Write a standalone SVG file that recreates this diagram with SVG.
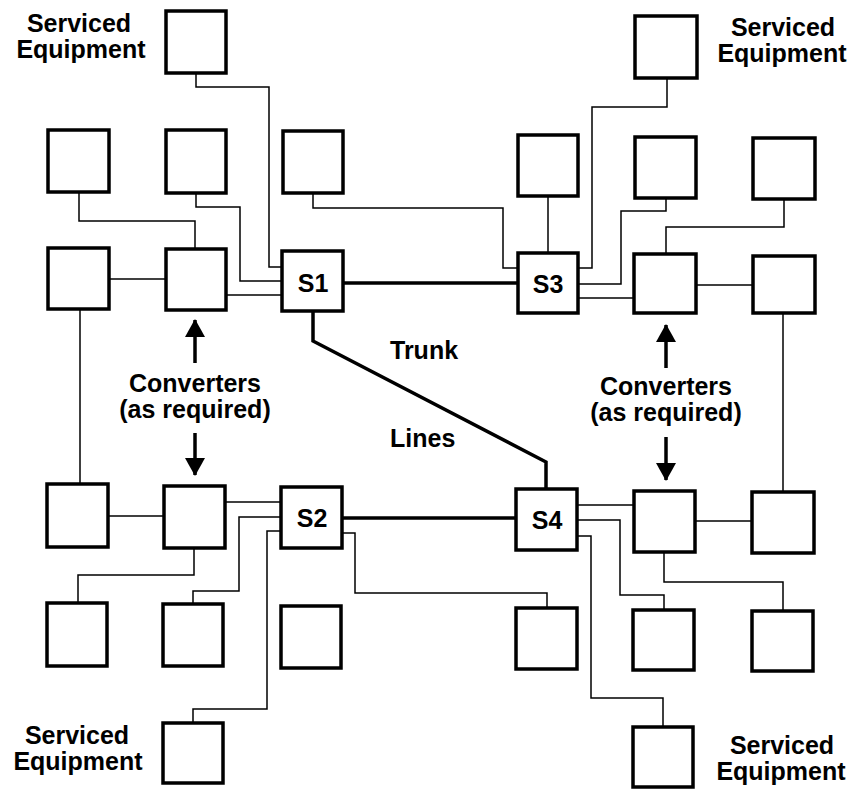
<svg xmlns="http://www.w3.org/2000/svg" width="857" height="794" viewBox="0 0 857 794">
<style>
.box{fill:#fff;stroke:#000;stroke-width:3.5}
.ln{fill:none;stroke:#000;stroke-width:1.5}
.tr{fill:none;stroke:#000;stroke-width:3.5}
.ar{fill:none;stroke:#000;stroke-width:3.5}
text{font-family:"Liberation Sans",Arial,sans-serif;font-weight:bold;font-size:25px;fill:#000}
.c{text-anchor:middle}
</style>
<defs>
<marker id="ah" markerWidth="20" markerHeight="20" refX="17" refY="10" orient="auto" markerUnits="userSpaceOnUse">
<path d="M0,0 L18,10 L0,20 Z" fill="#000"/>
</marker>
</defs>
<rect width="857" height="794" fill="#fff"/>
<g id="connectors">
<polyline class="ln" points="196,73 196,87 269,87 269,267 282,267"/>
<polyline class="ln" points="79,192 79,221 195,221 195,249"/>
<polyline class="ln" points="196,193 196,207 240,207 240,281 282,281"/>
<line class="ln" x1="109" y1="279" x2="166" y2="279"/>
<line class="ln" x1="226" y1="295" x2="282" y2="295"/>
<polyline class="ln" points="313,193 313,208 503,208 503,268 518,268"/>
<line class="ln" x1="548" y1="196" x2="548" y2="253"/>
<polyline class="ln" points="578,268 592,268 592,107 667,107 667,78"/>
<polyline class="ln" points="578,284 621,284 621,211 666,211 666,198"/>
<line class="ln" x1="578" y1="298" x2="634" y2="298"/>
<polyline class="ln" points="784,199 784,227 666,227 666,254"/>
<line class="ln" x1="696" y1="285" x2="753" y2="285"/>
<line class="ln" x1="783" y1="313" x2="783" y2="492"/>
<line class="ln" x1="80" y1="309" x2="80" y2="484"/>
<line class="ln" x1="108" y1="516" x2="164" y2="516"/>
<line class="ln" x1="225" y1="502" x2="281" y2="502"/>
<polyline class="ln" points="281,517 239,517 239,591 193,591 193,604"/>
<polyline class="ln" points="281,531 267,531 267,709 193,709 193,723"/>
<polyline class="ln" points="194,548 194,575 78,575 78,603"/>
<polyline class="ln" points="342,533 355,533 355,593 547,593 547,608"/>
<line class="ln" x1="577" y1="505" x2="634" y2="505"/>
<polyline class="ln" points="577,520 620,520 620,595 664,595 664,610"/>
<polyline class="ln" points="577,536 591,536 591,698 663,698 663,727"/>
<line class="ln" x1="695" y1="521" x2="752" y2="521"/>
<polyline class="ln" points="664,552 664,582 783,582 783,611"/>
<line class="tr" x1="343" y1="283" x2="518" y2="283"/>
<polyline class="tr" points="313,311 313,341 546,462 546,489"/>
<line class="tr" x1="342" y1="518" x2="516" y2="518"/>
<line class="ar" x1="195" y1="363" x2="195" y2="320" marker-end="url(#ah)"/>
<line class="ar" x1="195" y1="433" x2="195" y2="475" marker-end="url(#ah)"/>
<line class="ar" x1="666" y1="368" x2="666" y2="325" marker-end="url(#ah)"/>
<line class="ar" x1="666" y1="437" x2="666" y2="480" marker-end="url(#ah)"/>
</g>
<g id="se-tl"><rect class="box" x="166" y="11" width="60" height="62"/></g>
<g id="se-tr"><rect class="box" x="635" y="16" width="62" height="62"/></g>
<g id="a"><rect class="box" x="48" y="130" width="61" height="62"/></g>
<g id="b"><rect class="box" x="166" y="130" width="60" height="63"/></g>
<g id="c"><rect class="box" x="283" y="131" width="60" height="62"/></g>
<g id="d3"><rect class="box" x="518" y="135" width="60" height="61"/></g>
<g id="e3"><rect class="box" x="635" y="137" width="61" height="61"/></g>
<g id="f3"><rect class="box" x="753" y="138" width="62" height="61"/></g>
<g id="d"><rect class="box" x="48" y="248" width="61" height="61"/></g>
<g id="e"><rect class="box" x="166" y="249" width="60" height="61"/></g>
<g id="s1"><rect class="box" x="282" y="251" width="61" height="60"/><text class="c" x="313" y="292">S1</text></g>
<g id="s3"><rect class="box" x="518" y="253" width="60" height="60"/><text class="c" x="548" y="293">S3</text></g>
<g id="f"><rect class="box" x="634" y="254" width="62" height="59"/></g>
<g id="g"><rect class="box" x="753" y="256" width="62" height="57"/></g>
<g id="h"><rect class="box" x="47" y="484" width="61" height="63"/></g>
<g id="i"><rect class="box" x="164" y="486" width="61" height="62"/></g>
<g id="s2"><rect class="box" x="281" y="487" width="61" height="61"/><text class="c" x="312" y="527">S2</text></g>
<g id="s4"><rect class="box" x="516" y="489" width="61" height="61"/><text class="c" x="547" y="529">S4</text></g>
<g id="n"><rect class="box" x="634" y="491" width="61" height="61"/></g>
<g id="q"><rect class="box" x="752" y="492" width="62" height="61"/></g>
<g id="j"><rect class="box" x="47" y="603" width="60" height="63"/></g>
<g id="k"><rect class="box" x="163" y="604" width="60" height="62"/></g>
<g id="l"><rect class="box" x="281" y="606" width="60" height="62"/></g>
<g id="m"><rect class="box" x="516" y="608" width="61" height="61"/></g>
<g id="p"><rect class="box" x="633" y="610" width="61" height="60"/></g>
<g id="r"><rect class="box" x="752" y="611" width="61" height="60"/></g>
<g id="se-bl"><rect class="box" x="163" y="723" width="60" height="60"/></g>
<g id="se-br"><rect class="box" x="633" y="727" width="60" height="60"/></g>
<g id="labels">
<text class="c" x="79" y="32">Serviced</text>
<text class="c" x="81" y="58">Equipment</text>
<text class="c" x="783" y="36">Serviced</text>
<text class="c" x="782" y="62">Equipment</text>
<text class="c" x="77" y="744">Serviced</text>
<text class="c" x="78" y="770">Equipment</text>
<text class="c" x="782" y="754">Serviced</text>
<text class="c" x="781" y="780">Equipment</text>
<text class="c" x="195" y="392">Converters</text>
<text class="c" x="195" y="418">(as required)</text>
<text class="c" x="666" y="395">Converters</text>
<text class="c" x="666" y="421">(as required)</text>
<text x="390" y="359">Trunk</text>
<text x="390" y="447">Lines</text>
</g>
</svg>
